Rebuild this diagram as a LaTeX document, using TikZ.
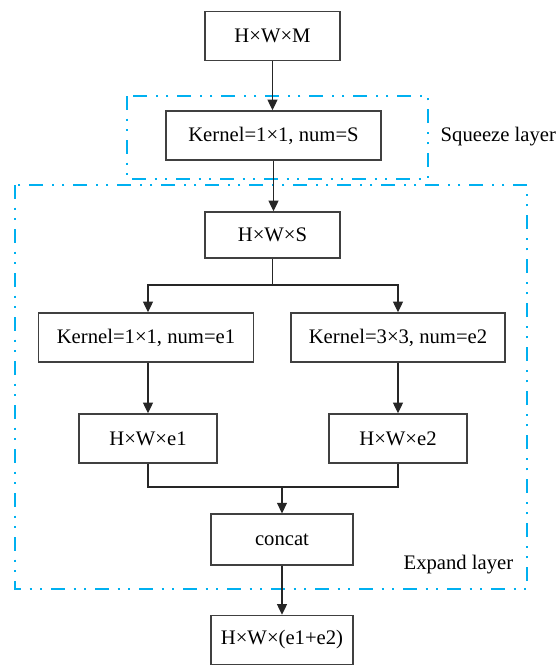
\documentclass[tikz,border=0pt]{standalone}
\usepackage{fontspec}
\setmainfont{Liberation Serif}
\usetikzlibrary{arrows.meta}
\definecolor{layerblue}{RGB}{0,176,240}
\tikzset{
  blk/.style={draw=black!75,line width=1.1pt,minimum height=36.75pt,inner sep=2pt},
  conn/.style={draw=black!85,line width=0.9pt},
  arr/.style={conn,-{Triangle[length=8pt,width=7.5pt]}},
  layer/.style={draw=layerblue,line width=1.4pt,
    dash pattern=on 10.5pt off 6.5pt on 1.5pt off 6.5pt on 1.5pt off 6.5pt},
  lbl/.style={font=\fontsize{15.5}{18}\selectfont}
}
\begin{document}
\begin{tikzpicture}[x=0.75pt,y=-0.75pt,font=\rmfamily\fontsize{15.5}{18}\selectfont]
\useasboundingbox (0,0) rectangle (559,665);
\draw[layer] (127,96) rectangle (428,179);
\draw[layer] (15,185) rectangle (527,589);
\node[lbl,anchor=west] (sqlbl) at (436,137) {Squeeze layer};
\node[lbl,anchor=east] (exlbl) at (518,565) {Expand layer};
\node[blk,minimum width=101pt] (hwm) at (272.5,36) {H×W×M};
\node[blk,minimum width=161pt] (sq) at (273.5,135.5) {Kernel=1×1, num=S};
\node[blk,minimum width=101pt,minimum height=34.5pt] (hws) at (272.5,235) {H×W×S};
\node[blk,minimum width=161pt] (k1) at (146,337.5) {Kernel=1×1, num=e1};
\node[blk,minimum width=160.5pt] (k3) at (398,337.5) {Kernel=3×3, num=e2};
\node[blk,minimum width=103.5pt] (hwe1) at (148,438.5) {H×W×e1};
\node[blk,minimum width=103.5pt] (hwe2) at (398,438.5) {H×W×e2};
\node[blk,minimum width=106.5pt,minimum height=38pt] (cat) at (282,539.5) {concat};
\node[blk,minimum width=106.5pt] (out) at (282,640) {H×W×(e1+e2)};
\coordinate (split) at (272.5,285);
\coordinate (merge) at (282,487);
\draw[arr] (hwm) -- (hwm |- sq.north);
\draw[arr] (sq) -- (sq |- hws.north);
\draw[conn] (hws) -- (split);
\draw[arr] (split) -| (hwe1 |- k1.north);
\draw[arr] (split) -| (k3.north);
\draw[arr] (hwe1 |- k1.south) -- (hwe1);
\draw[arr] (k3) -- (hwe2);
\draw[conn] (hwe1.south) |- (merge) -| (hwe2.south);
\draw[arr] (merge) -- (cat);
\draw[arr] (cat) -- (out);
\end{tikzpicture}
\end{document}
